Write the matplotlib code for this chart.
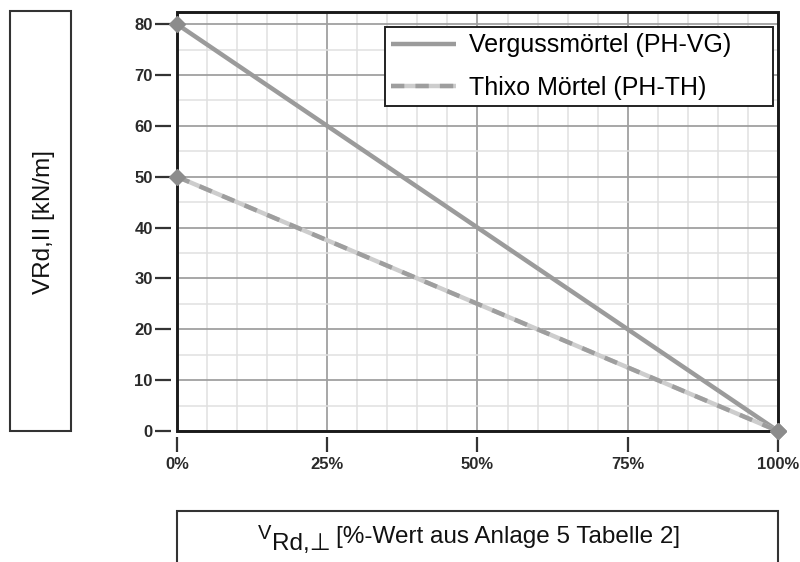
import numpy as np
import matplotlib
matplotlib.use("Agg")
import matplotlib.pyplot as plt
from matplotlib.patches import Rectangle
from matplotlib.ticker import MultipleLocator, FuncFormatter
from matplotlib.legend_handler import HandlerTuple

plt.rcParams['font.family'] = ['Liberation Sans', 'DejaVu Sans']

# data
x_pct = [0, 100]
y_verguss = [80, 0]
y_thixo = [50, 0]
labels = ['Vergussmörtel (PH-VG)', 'Thixo Mörtel (PH-TH)']

W, H = 800, 562
fig = plt.figure(figsize=(8, 5.62), dpi=100)
ax = fig.add_axes([177 / W, 1 - 431 / H, 601 / W, 419 / H])

ax.set_xlim(0, 100)
ax.set_ylim(0, 82.4)
ax.xaxis.set_major_locator(MultipleLocator(25))
ax.xaxis.set_minor_locator(MultipleLocator(5))
ax.yaxis.set_major_locator(MultipleLocator(10))
ax.yaxis.set_minor_locator(MultipleLocator(5))
ax.xaxis.set_major_formatter(FuncFormatter(lambda v, p: '%d%%' % v))

ax.grid(which='minor', color='#e0e0e0', lw=1.1, zorder=0)
ax.grid(which='major', color='#a0a0a0', lw=1.3, zorder=0)
ax.set_axisbelow(True)

# ticks sit a few pixels away from the frame
for s in ['left', 'bottom']:
    ax.spines[s].set_position(('outward', 4))
for s in ax.spines.values():
    s.set_visible(False)
ax.add_patch(Rectangle((0, 0), 1, 1, transform=ax.transAxes, fill=False,
                       ec='#1a1a1a', lw=2.1, clip_on=False, zorder=10))

ax.tick_params(axis='y', which='major', direction='out', length=11.5, width=1.6,
               color='#333333', pad=2, labelsize=12)
ax.tick_params(axis='x', which='major', direction='out', length=11, width=1.6,
               color='#333333', pad=4, labelsize=12)
ax.tick_params(which='minor', length=0)
for lab in ax.get_xticklabels() + ax.get_yticklabels():
    lab.set_fontweight('bold')
    lab.set_color('#2a2a2a')

# lines
l1, = ax.plot(x_pct, y_verguss, color='#9b9b9b', lw=3.2, solid_capstyle='butt', zorder=3)
l2a, = ax.plot(x_pct, y_thixo, color='#cdcdcd', lw=3.2, solid_capstyle='butt', zorder=3)
l2b, = ax.plot(x_pct, y_thixo, color='#9e9e9e', lw=3.2, dashes=(3, 2.5), zorder=4)
ax.plot(x_pct, y_verguss, ls='none', marker='D', ms=8, color='#8c8c8c', clip_on=False, zorder=11)
ax.plot(x_pct, y_thixo, ls='none', marker='D', ms=8, color='#8c8c8c', clip_on=False, zorder=11)

x0 = (385 - 177) / 601
y1 = (431 - 27) / 419
leg = ax.legend([l1, (l2a, l2b)], labels, loc='upper left',
                bbox_to_anchor=(x0, y1 - 0.3, (773 - 385) / 601, 0.3), mode='expand',
                fontsize=18, frameon=True,
                fancybox=False, framealpha=1, edgecolor='#222222',
                handlelength=2.6, handletextpad=0.5, borderpad=0.25,
                labelspacing=0.75, borderaxespad=0,
                handler_map={tuple: HandlerTuple(ndivide=1, pad=0)})
leg.get_frame().set_linewidth(1.4)
leg.set_zorder(12)

# axis label boxes
fig.patches.append(Rectangle((10 / W, 1 - 431 / H), 61 / W, 420 / H,
                             transform=fig.transFigure, fill=False,
                             ec='#333333', lw=1.5))
fig.text(44 / W, 1 - 222 / H, 'VRd,II [kN/m]', rotation=90, ha='center',
         va='center', fontsize=17.5, color='#111111')

fig.patches.append(Rectangle((177 / W, -10 / H), 601 / W, (562 - 511 + 10) / H,
                             transform=fig.transFigure, fill=False,
                             ec='#333333', lw=1.5))

# x label: small raised V, lowered Rd,⊥, then the rest
renderer = fig.canvas.get_renderer()
tv = fig.text(258 / W, 1 - 539 / H, 'V', fontsize=14.5, va='baseline', color='#111111')
bb = tv.get_window_extent(renderer)
tr = fig.text((bb.x1 + 1) / W, 1 - 550 / H, 'Rd,⊥', fontsize=17.5, va='baseline',
              color='#111111')
bb = tr.get_window_extent(renderer)
fig.text((bb.x1 + 5) / W, 1 - 543 / H, '[%-Wert aus Anlage 5 Tabelle 2]',
         fontsize=17.5, va='baseline', color='#111111')

fig.savefig('out.png', dpi=100)
